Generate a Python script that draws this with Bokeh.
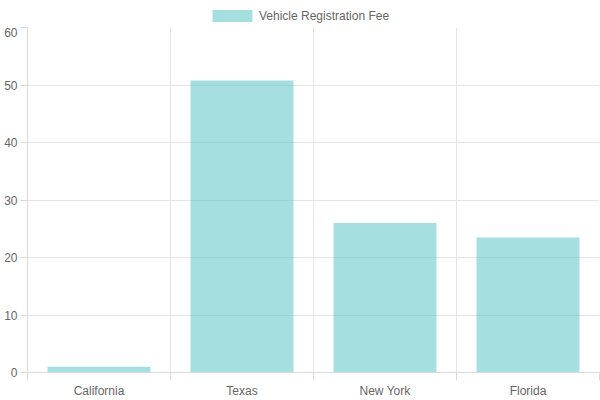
from bokeh.plotting import figure
from bokeh.layouts import column
from bokeh.models import Range1d, FixedTicker, Legend, LegendItem, ColumnDataSource
from bokeh.embed import file_html
from bokeh.resources import INLINE

categories = ["California", "Texas", "New York", "Florida"]
fees = [1.0, 50.8, 26.0, 23.5]
y_ticks = [0, 10, 20, 30, 40, 50, 60]
series_name = "Vehicle Registration Fee"

xs = [i + 0.5 for i in range(len(categories))]
src = ColumnDataSource(dict(x=xs, top=fees, name=categories))

FONT = "Liberation Sans"
TXT = "#666666"
GRID = "#e5e5e5"
AXIS = "#dadada"
BAR = dict(fill_color=(75, 192, 192), fill_alpha=0.5, line_color=None)

# ---- main chart ----
p = figure(width=600, height=373, output_backend="svg", toolbar_location=None,
           x_range=Range1d(0, len(categories)), y_range=Range1d(0, 60),
           min_border_left=27, min_border_right=1, min_border_bottom=28, min_border_top=0)
p.outline_line_color = None

r = p.vbar(x="x", top="top", bottom=0, width=0.72, source=src, **BAR)

xa = p.xaxis[0]
xa.ticker = FixedTicker(ticks=xs, minor_ticks=list(range(len(categories) + 1)))
xa.major_label_overrides = {x: c for x, c in zip(xs, categories)}
xa.major_tick_out = 0
xa.major_tick_in = 0
xa.minor_tick_out = 8
xa.minor_tick_in = 0
xa.minor_tick_line_color = AXIS
xa.axis_line_color = AXIS
xa.major_label_standoff = 3
xa.major_label_text_font = FONT
xa.major_label_text_font_size = "12px"
xa.major_label_text_color = TXT

ya = p.yaxis[0]
ya.ticker = FixedTicker(ticks=y_ticks, minor_ticks=[])
ya.major_tick_out = 7
ya.major_tick_in = 0
ya.major_tick_line_color = AXIS
ya.axis_line_color = AXIS
ya.major_label_standoff = 3
ya.major_label_text_font = FONT
ya.major_label_text_font_size = "12px"
ya.major_label_text_color = TXT

p.xgrid.ticker = FixedTicker(ticks=list(range(len(categories) + 1)))
p.xgrid.grid_line_color = GRID
p.ygrid.ticker = FixedTicker(ticks=y_ticks)
p.ygrid.grid_line_color = GRID

# ---- legend strip above the chart ----
lg = figure(width=600, height=27, output_backend="svg", toolbar_location=None,
            x_range=Range1d(0, len(categories)), y_range=Range1d(0, 60),
            min_border_left=27, min_border_right=1, min_border_bottom=0, min_border_top=0)
lg.outline_line_color = None
lg.axis.visible = False
lg.grid.visible = False
lr = lg.vbar(x="x", top="top", bottom=0, width=0.72, source=src, visible=False, **BAR)

legend = Legend(items=[LegendItem(label=series_name, renderers=[lr])],
                orientation="horizontal", location=(180, 4),
                glyph_width=50, glyph_height=15, label_standoff=2,
                label_text_font=FONT, label_text_font_size="12px", label_text_color=TXT,
                border_line_color=None, background_fill_alpha=0,
                padding=0, margin=0, spacing=0)
lg.add_layout(legend, "center")

layout = column(lg, p, spacing=0)
open("out.html", "w").write(file_html(layout, INLINE))
